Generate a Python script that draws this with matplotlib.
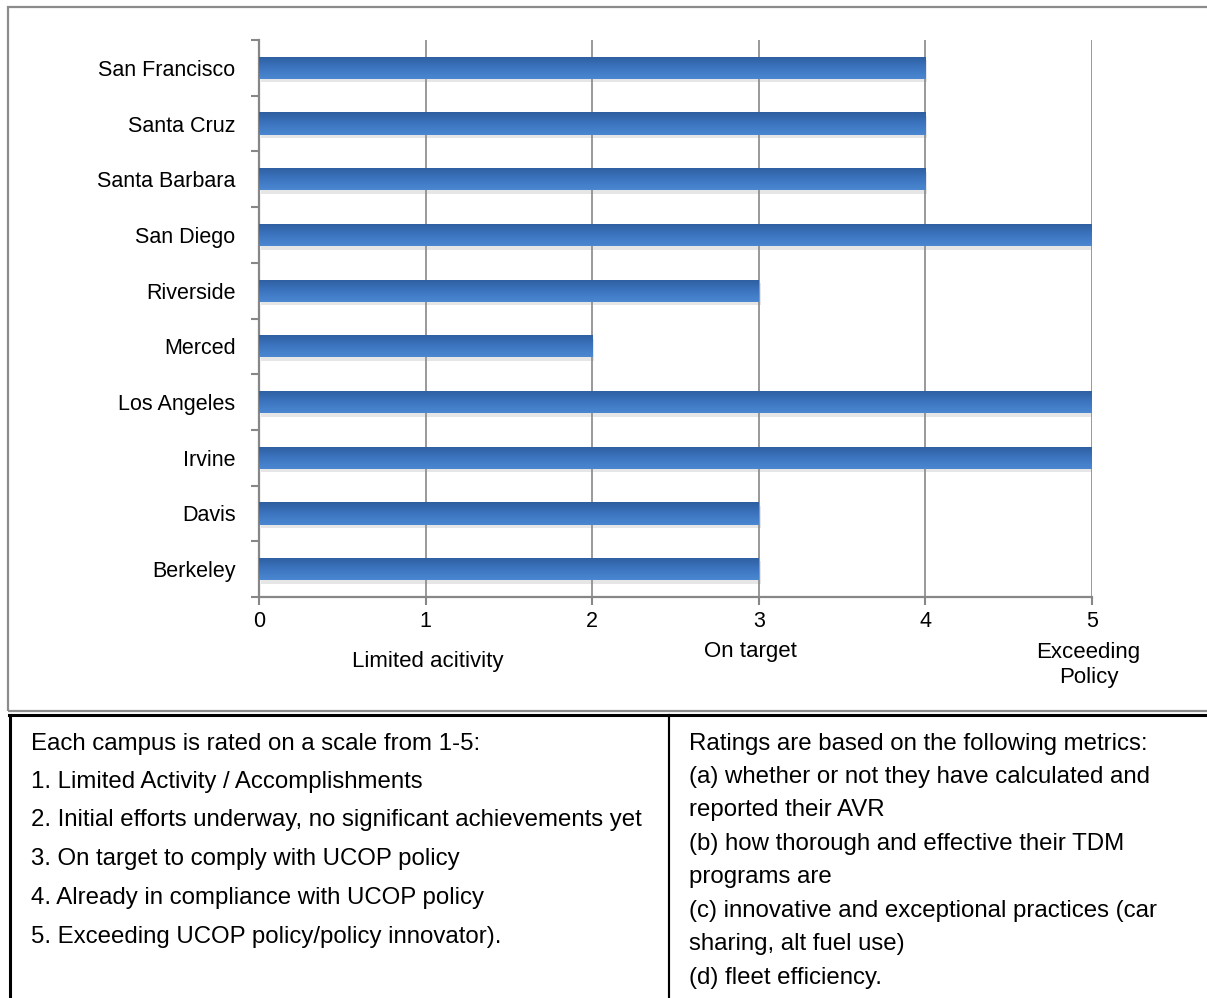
import matplotlib
matplotlib.use("Agg")
import matplotlib.pyplot as plt
import numpy as np
from matplotlib import transforms, patches, lines
from matplotlib.patheffects import SimplePatchShadow, Normal
from matplotlib.colors import LinearSegmentedColormap

# ---------------- data ----------------
campuses = ["Berkeley", "Davis", "Irvine", "Los Angeles", "Merced",
            "Riverside", "San Diego", "Santa Barbara", "Santa Cruz", "San Francisco"]
ratings = [3, 3, 5, 5, 2, 3, 5, 4, 4, 4]
x_ticks = [0, 1, 2, 3, 4, 5]
scale_labels = ["Limited acitivity", "On target", "Exceeding\nPolicy"]
scale_label_x = [1.01, 2.95, 4.98]

left_lines = [
    "Each campus is rated on a scale from 1-5:",
    "1. Limited Activity / Accomplishments",
    "2. Initial efforts underway, no significant achievements yet",
    "3. On target to comply with UCOP policy",
    "4. Already in compliance with UCOP policy",
    "5. Exceeding UCOP policy/policy innovator).",
]
right_lines = [
    "Ratings are based on the following metrics:",
    "(a) whether or not they have calculated and",
    "reported their AVR",
    "(b) how thorough and effective their TDM",
    "programs are",
    "(c) innovative and exceptional practices (car",
    "sharing, alt fuel use)",
    "(d) fleet efficiency.",
]

plt.rcParams["font.family"] = ["Liberation Sans", "DejaVu Sans"]
FS_TICK = 15.5
FS_SCALE = 16
FS_TABLE = 17.3

W, H = 1207, 998
fig = plt.figure(figsize=(W / 100, H / 100), dpi=100)

def fx(px):
    return px / W

def fy(py):
    return 1 - py / H

# panel border (gray)
fig.add_artist(patches.Rectangle((fx(8), fy(711)), fx(1215 - 8), fy(7) - fy(711),
                                 transform=fig.transFigure, fill=False,
                                 edgecolor="#8c8c8c", linewidth=1.6))

ax = fig.add_axes([fx(259), fy(597), fx(1092) - fx(259), fy(40) - fy(597)])
grid_c = "#878787"

y = np.arange(len(campuses))
bars = ax.barh(y, ratings, height=0.40, color="#3a72bd", zorder=3,
               path_effects=[SimplePatchShadow(offset=(1.5, -2.5), shadow_rgbFace="#909090", alpha=0.22),
                             Normal()])

cmap = LinearSegmentedColormap.from_list("bar", ["#4b88d1", "#3c74bf", "#2d5e9f"])
grad = np.linspace(0, 1, 64).reshape(-1, 1)
for b in bars:
    x0, y0 = b.get_x(), b.get_y()
    w, h = b.get_width(), b.get_height()
    im = ax.imshow(grad, cmap=cmap, aspect="auto", extent=(x0, x0 + w, y0 + h, y0),
                   origin="upper", zorder=4, interpolation="bilinear")
    im.set_clip_path(b)

ax.set_xlim(0, 5)
ax.set_ylim(-0.5, len(campuses) - 0.5)
ax.set_xticks(x_ticks)
ax.set_xticklabels([str(t) for t in x_ticks], fontsize=FS_TICK)
ax.set_yticks(y)
ax.set_yticklabels(campuses, fontsize=FS_TICK)
ax.set_yticks(np.arange(-0.5, len(campuses), 1.0), minor=True)
ax.tick_params(axis="y", which="major", length=0, pad=17)
ax.tick_params(axis="y", which="minor", length=6, width=1.5, color=grid_c, direction="out")
ax.tick_params(axis="x", which="major", length=6, width=1.5, color=grid_c, direction="out", pad=4)
ax.grid(axis="x", color=grid_c, linewidth=1.2, zorder=0)
ax.set_axisbelow(True)
for s in ["top", "right"]:
    ax.spines[s].set_visible(False)
for s in ["left", "bottom"]:
    ax.spines[s].set_color(grid_c)
    ax.spines[s].set_linewidth(1.6)

# scale descriptions under the axis
blend = transforms.blended_transform_factory(ax.transData, fig.transFigure)
scale_label_y = [661, 652, 665]
for lbl, xv, yp in zip(scale_labels, scale_label_x, scale_label_y):
    ax.text(xv, fy(yp), lbl, transform=blend, ha="center", va="center",
            fontsize=FS_SCALE, linespacing=1.3, clip_on=False)

# ---------------- table below ----------------
lw = 2.2
fig.add_artist(lines.Line2D([fx(9), 1.0], [fy(715), fy(715)], color="black",
                            linewidth=lw, transform=fig.transFigure))
fig.add_artist(lines.Line2D([fx(10), fx(10)], [fy(715), 0], color="black",
                            linewidth=lw, transform=fig.transFigure))
fig.add_artist(lines.Line2D([fx(669), fx(669)], [fy(715), 0], color="black",
                            linewidth=lw * 0.7, transform=fig.transFigure))

left_y = [744, 782, 820, 859, 898, 937]
for t, yp in zip(left_lines, left_y):
    fig.text(fx(31), fy(yp), t, ha="left", va="center", fontsize=FS_TABLE)

right_y = [744, 777, 810, 844, 877, 911, 944, 978]
for t, yp in zip(right_lines, right_y):
    fig.text(fx(689), fy(yp), t, ha="left", va="center", fontsize=FS_TABLE)

fig.savefig("out.png", dpi=100)
